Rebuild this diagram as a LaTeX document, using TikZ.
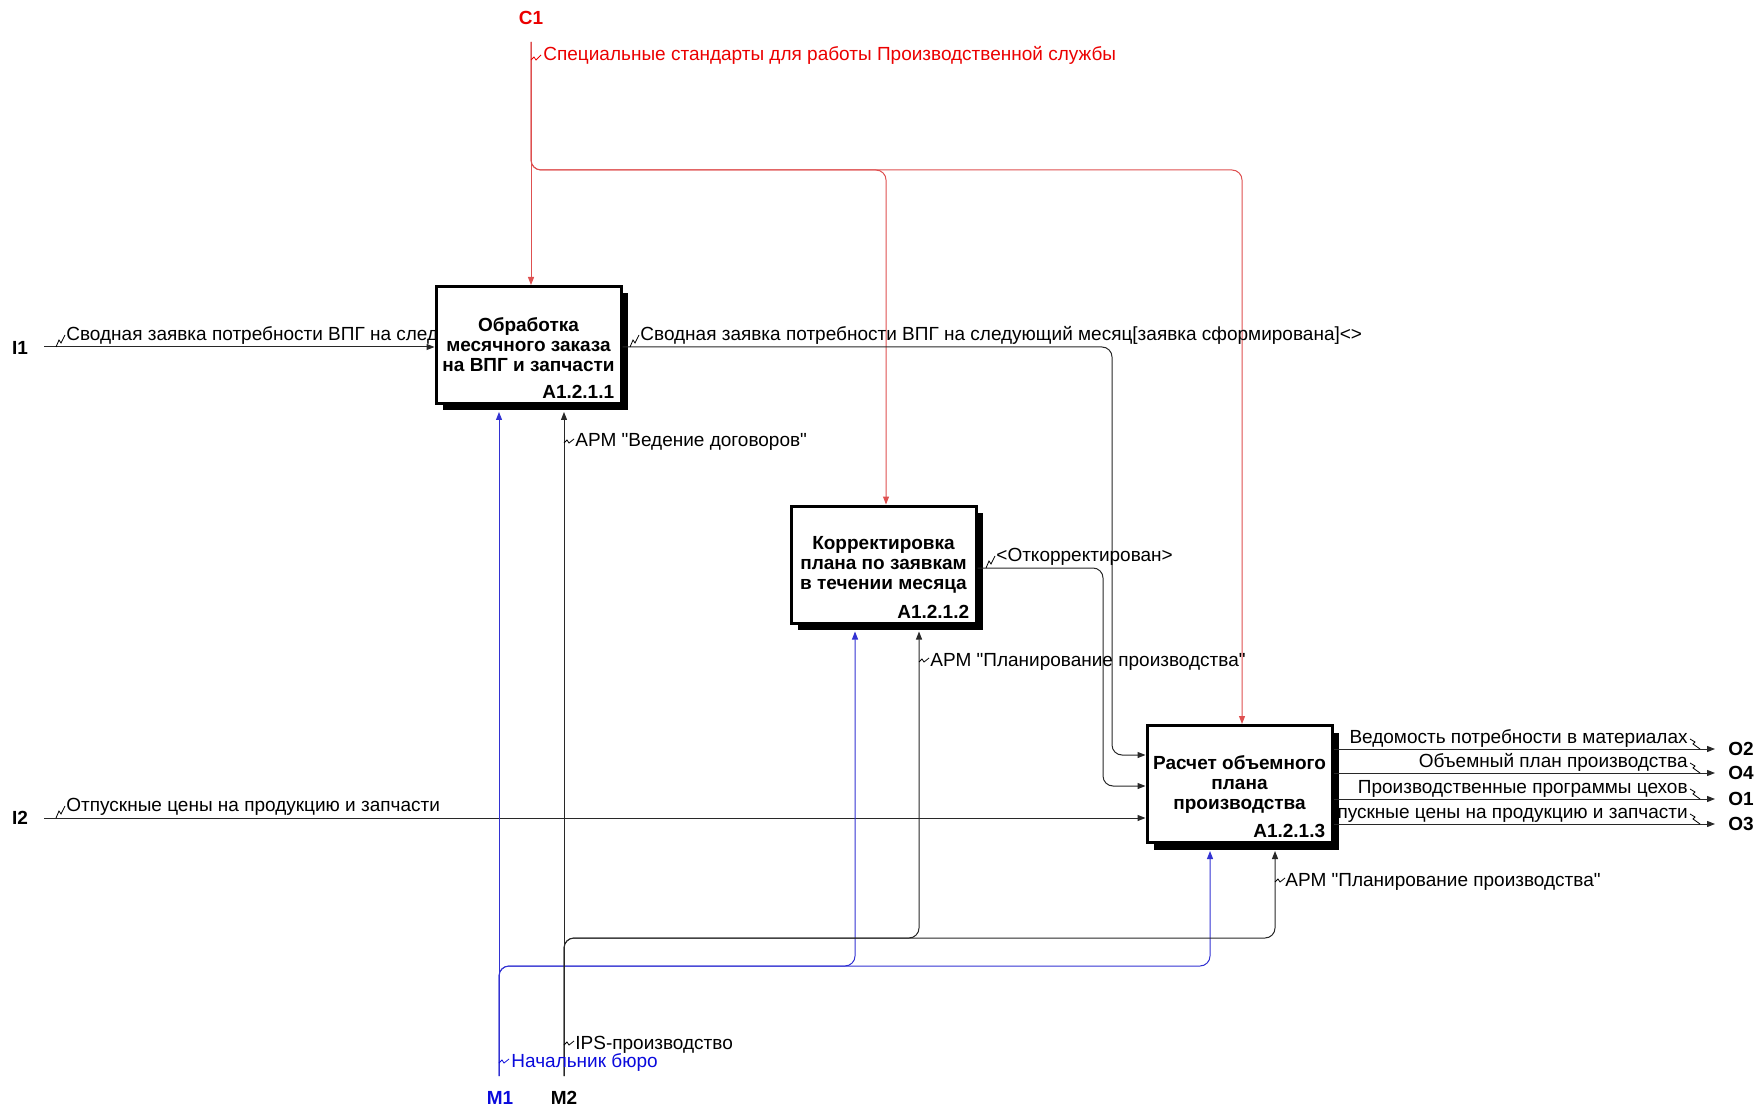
\documentclass[tikz,border=0pt]{standalone}
\usepackage{fontspec}
\setmainfont{Liberation Sans}[Ligatures=TeXOff]
\usetikzlibrary{arrows.meta,shadows,calc}
\definecolor{cred}{RGB}{235,0,0}
\definecolor{lred}{RGB}{222,80,80}
\definecolor{cblue}{RGB}{10,10,220}
\definecolor{lblue}{RGB}{50,50,210}
\definecolor{lblack}{RGB}{40,40,40}
\begin{document}
\begin{tikzpicture}[x=0.5pt,y=-0.5pt,
  >={Triangle[length=4pt,width=3pt]},
  font=\fontsize{9.5}{11}\selectfont,
  box/.style={draw,line width=1.5pt,fill=white,minimum width=92.5pt,minimum height=58.5pt,
    inner sep=0pt,align=center,font=\bfseries\fontsize{9.5}{10}\selectfont,
    drop shadow={shadow xshift=3.5pt,shadow yshift=-3.5pt,fill=black,opacity=1}},
  boxid/.style={anchor=south east,inner sep=0pt,font=\bfseries\fontsize{9.5}{10}\selectfont},
  arr/.style={line width=0.5pt,draw=lblack},
  ctrl/.style={line width=0.5pt,draw=lred},
  mech/.style={line width=0.5pt,draw=lblue},
  sq/.style={line width=0.4pt},
  lbl/.style={anchor=base west,inner sep=0pt},
  rlbl/.style={anchor=base east,inner sep=0pt},
  bord/.style={inner sep=0pt,font=\bfseries\fontsize{9.5}{10}\selectfont}]
\useasboundingbox (0,0) rectangle (1754,1106);

% label partly hidden behind box 3
\node[rlbl] (lo3) at (1688,818) {Отпускные цены на продукцию и запчасти};

% boxes
\node[box] (b1) at (528.5,345) {Обработка\\месячного заказа\\на ВПГ и запчасти};
\node[boxid] (id1) at ([xshift=-4pt,yshift=3pt]b1.south east) {A1.2.1.1};
\node[box] (b2) at (883.5,564.5) {Корректировка\\плана по заявкам\\в течении месяца};
\node[boxid] (id2) at ([xshift=-4pt,yshift=3pt]b2.south east) {A1.2.1.2};
\node[box] (b3) at (1239.5,784) {Расчет объемного\\плана\\производства};
\node[boxid] (id3) at ([xshift=-4pt,yshift=3pt]b3.south east) {A1.2.1.3};

% boundary labels
\node[bord,text=cred] (C1) at (531,18) {C1};
\node[bord] (I1) at (20,348) {I1};
\node[bord] (I2) at (20,818) {I2};
\node[bord,text=cblue] (M1) at (500,1098) {M1};
\node[bord] (M2) at (564,1098) {M2};
\node[bord] (O2) at (1741,749) {O2};
\node[bord] (O4) at (1741,773) {O4};
\node[bord] (O1) at (1741,799) {O1};
\node[bord] (O3) at (1741,824) {O3};

\coordinate (c1) at (531,42);
\coordinate (i1) at (44,347);
\coordinate (i2) at (44,818);
\coordinate (m1) at (499,1076);
\coordinate (m2) at (564,1076);
\coordinate (o2) at (1715,749);
\coordinate (o4) at (1715,773);
\coordinate (o1) at (1715,799);
\coordinate (o3) at (1715,824);

% controls
\draw[ctrl,->] (c1) -- (c1 |- b1.north);
\draw[ctrl,->,rounded corners=5pt] (c1) |- (886,170) -- (886,0 |- b2.north);
\draw[ctrl,->,rounded corners=5pt] (c1) |- (1242,170) -- (1242,0 |- b3.north);

% inputs
\draw[arr,->] (i1) -- (b1.west |- i1);
\draw[arr,->] (i2) -- (b3.west |- i2);
\draw[arr,->,rounded corners=5pt] (b1.east |- i1) -| (1112,755) -- (b3.west |- 0,755);
\draw[arr,->,rounded corners=5pt] (b2.east |- 0,568) -| (1103,786) -- (b3.west |- 0,786);

% outputs
\draw[arr,->] (b3.east |- o2) -- (o2);
\draw[arr,->] (b3.east |- o4) -- (o4);
\draw[arr,->] (b3.east |- o1) -- (o1);
\draw[arr,->] (b3.east |- o3) -- (o3);

% mechanisms
\draw[mech,->] (m1) -- ($(m1 |- b1.south)+(0,7)$);
\draw[mech,->,rounded corners=5pt] (m1) |- (855,966) -- ($(855,0 |- b2.south)+(0,7)$);
\draw[mech,->,rounded corners=5pt] (m1) |- (1210,966) -- ($(1210,0 |- b3.south)+(0,7)$);
\draw[arr,->] (m2) -- ($(m2 |- b1.south)+(0,7)$);
\draw[arr,->,rounded corners=5pt] (m2) |- (919,938) -- ($(919,0 |- b2.south)+(0,7)$);
\draw[arr,->,rounded corners=5pt] (m2) |- (1275,938) -- ($(1275,0 |- b3.south)+(0,7)$);

% labels
\node[lbl,text=cred] (lc1) at (543,61) {Специальные стандарты для работы Производственной службы};
\draw[sq,draw=cred] (531,60) -- ++(3,-3) -- ++(2,3) -- ++(5,-5);
\node[lbl] (li1) at (66,341) {Сводная заявка потребности ВПГ на след};
\draw[sq] (56,347) -- ++(3,-7) -- ++(2,3) -- ++(4,-8);
\node[lbl] (lb1) at (640,341) {Сводная заявка потребности ВПГ на следующий месяц[заявка сформирована]<>};
\draw[sq] (630,347) -- ++(3,-7) -- ++(2,3) -- ++(4,-8);
\node[lbl] (lb2) at (996,561) {<Откорректирован>};
\draw[sq] (986,568) -- ++(3,-7) -- ++(2,3) -- ++(4,-8);
\node[lbl] (li2) at (66,811) {Отпускные цены на продукцию и запчасти};
\draw[sq] (56,818) -- ++(3,-7) -- ++(2,3) -- ++(4,-8);

\node[lbl] (la1) at (575,447) {АРМ "Ведение договоров"};
\draw[sq] (564,443) -- ++(3,-3) -- ++(2,3) -- ++(5,-4);
\node[lbl] (la2) at (930,666) {АРМ "Планирование производства"};
\draw[sq] (919,662) -- ++(3,-3) -- ++(2,3) -- ++(5,-4);
\node[lbl] (la3) at (1285,886) {АРМ "Планирование производства"};
\draw[sq] (1275,882) -- ++(3,-3) -- ++(2,3) -- ++(5,-4);
\node[lbl] (lips) at (575,1049) {IPS-производство};
\draw[sq] (564,1045) -- ++(3,-3) -- ++(2,3) -- ++(5,-4);
\node[lbl,text=cblue] (lnb) at (511,1067) {Начальник бюро};
\draw[sq,draw=cblue] (499,1063) -- ++(3,-3) -- ++(2,3) -- ++(5,-4);

\node[rlbl] (lo2) at (1688,743) {Ведомость потребности в материалах};
\draw[sq] (1690,739) -- ++(5,3) -- ++(-2,2) -- ++(7,5);
\node[rlbl] (lo4) at (1688,767) {Объемный план производства};
\draw[sq] (1690,763) -- ++(5,3) -- ++(-2,2) -- ++(7,5);
\node[rlbl] (lo1) at (1688,793) {Производственные программы цехов};
\draw[sq] (1690,789) -- ++(5,3) -- ++(-2,2) -- ++(7,5);
\draw[sq] (1690,814) -- ++(5,3) -- ++(-2,2) -- ++(7,5);
\end{tikzpicture}
\end{document}
